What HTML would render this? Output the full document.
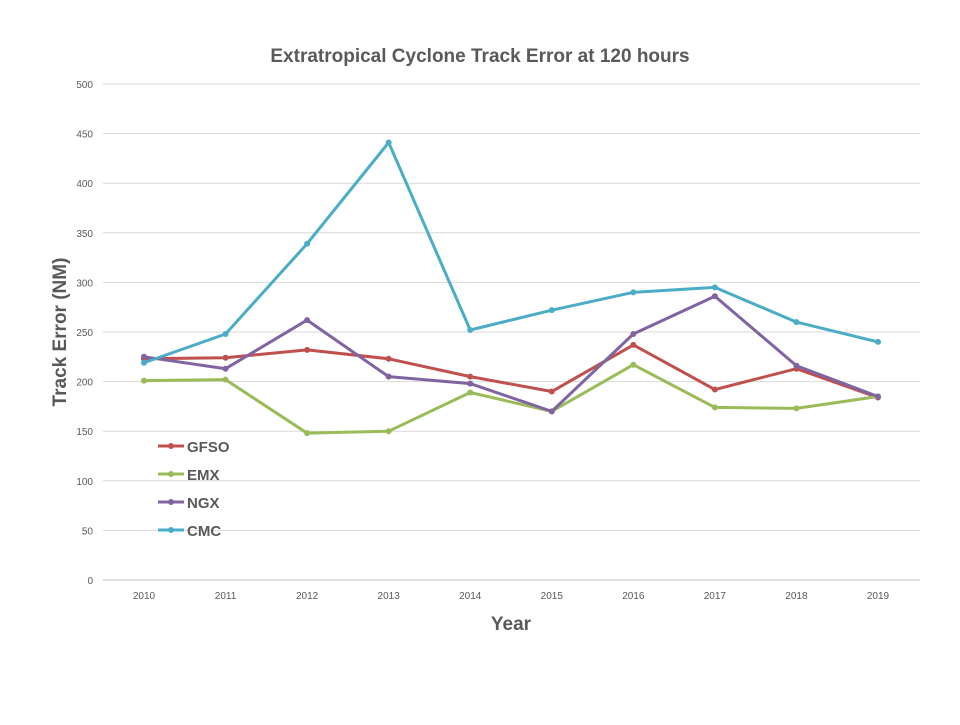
<!DOCTYPE html>
<html><head><meta charset="utf-8"><style>
body{margin:0;background:#fff;font-family:"Liberation Sans",sans-serif}
</style></head><body>
<svg width="960" height="720" id="chart" xmlns="http://www.w3.org/2000/svg">
<text x="480" y="62" text-anchor="middle" font-size="19" font-weight="bold" fill="#595959">Extratropical Cyclone Track Error at 120 hours</text>
<text transform="translate(66,332) rotate(-90)" text-anchor="middle" font-size="19" font-weight="bold" fill="#595959">Track Error  (NM)</text>
<text x="511" y="630" text-anchor="middle" font-size="19" font-weight="bold" fill="#595959">Year</text>
<g id="grid"></g><g id="series"></g><g id="legend"></g>
</svg>
<script>
const years=["2010","2011","2012","2013","2014","2015","2016","2017","2018","2019"];
const yTicks=[0,50,100,150,200,250,300,350,400,450,500];
const gfso=[223,224,232,223,205,190,237,192,213,184];
const emx=[201,202,148,150,189,170,217,174,173,185];
const ngx=[225,213,262,205,198,170,248,286,216,185];
const cmc=[219,248,339,441,252,272,290,295,260,240];
const seriesNames=["GFSO","EMX","NGX","CMC"];
const colors=["#c0504d","#9bbb59","#8064a2","#4bacc6"];
const NS="http://www.w3.org/2000/svg";
const x=i=>144+i*(878-144)/(years.length-1);
const y=v=>580-v*(496/500);
function mk(t,a,p){const e=document.createElementNS(NS,t);for(const k in a)e.setAttribute(k,a[k]);p.appendChild(e);return e;}
const grid=document.getElementById('grid');
yTicks.forEach(v=>{
 const l=mk('line',{x1:103,x2:920,y1:y(v),y2:y(v),stroke:v===0?'#bfbfbf':'#d9d9d9','stroke-width':1},grid);
 
 
 const t=mk('text',{x:93,y:y(v)+4,'text-anchor':'end','font-size':10,fill:'#595959'},grid);t.textContent=v;
 
 
});
years.forEach((yr,i)=>{
 const t=mk('text',{x:x(i),y:599,'text-anchor':'middle','font-size':10,fill:'#595959'},grid);t.textContent=yr;
 
 
});
const data=[gfso,emx,ngx,cmc];
const sg=document.getElementById('series');
data.forEach((d,s)=>{
 const g=mk('g',{},sg);
 
 
 mk('polyline',{points:d.map((v,i)=>x(i)+','+y(v)).join(' '),fill:'none',stroke:colors[s],'stroke-width':3,'stroke-linejoin':'round'},g);
 d.forEach((v,i)=>{const c=mk('circle',{cx:x(i),cy:y(v),r:3,fill:colors[s]},g);
  
  });
});
const lg=document.getElementById('legend');
seriesNames.forEach((n,s)=>{
 const yy=446+s*28;
 const g=mk('g',{},lg);
 
 
 mk('line',{x1:158,x2:184,y1:yy,y2:yy,stroke:colors[s],'stroke-width':3},g);
 mk('circle',{cx:171,cy:yy,r:3,fill:colors[s]},g);
 const t=mk('text',{x:187,y:yy+6,'font-size':15,'font-weight':'bold',fill:'#595959'},g);t.textContent=n;
});
</script>
</body></html>
